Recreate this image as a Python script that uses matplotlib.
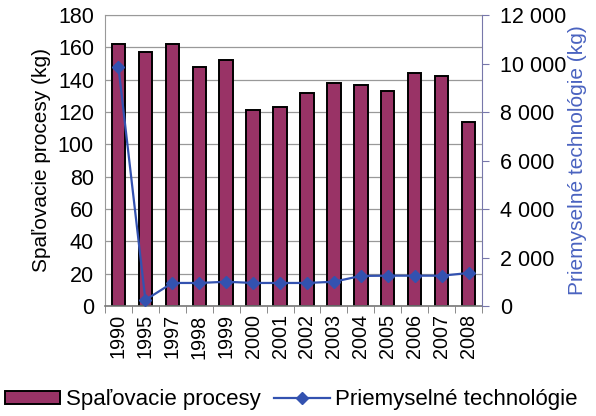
import numpy as np
import matplotlib.pyplot as plt
from matplotlib.ticker import FuncFormatter

years = ['1990', '1995', '1997', '1998', '1999', '2000', '2001',
         '2002', '2003', '2004', '2005', '2006', '2007', '2008']
spalovacie = [162, 157, 162, 148, 152, 121, 123, 132, 138, 137, 133, 144, 142, 114]
priemyselne = [9850, 250, 950, 950, 1000, 950, 950, 950, 1000, 1240, 1250, 1250, 1250, 1360]

BAR_COLOR = '#993366'
LINE_COLOR = '#3352b0'

plt.rcParams['font.family'] = ['Liberation Sans', 'DejaVu Sans']

fig = plt.figure(figsize=(5.96, 4.16), dpi=100)
ax = fig.add_axes([105 / 596, 1 - 306 / 416, 377 / 596, 291 / 416])
x = np.arange(len(years))

ax.bar(x, spalovacie, width=0.5, color=BAR_COLOR, edgecolor='black', linewidth=1.4,
       label='Spaľovacie procesy', zorder=2)
ax.set_xlim(-0.5, len(years) - 0.5)
ax.set_ylim(0, 180)
ax.set_yticks(range(0, 181, 20))
ax.grid(axis='y', color='#999999', linewidth=0.9, zorder=0)
ax.set_axisbelow(True)
ax.set_xticks(x)
ax.set_xticklabels(years, rotation=90, fontsize=14.3)
ax.set_xticks(np.arange(-0.5, len(years), 1), minor=True)
ax.tick_params(axis='x', which='major', length=0, pad=6)
ax.tick_params(axis='x', which='minor', length=5, color='#777777')
ax.tick_params(axis='y', length=0, labelsize=15.5, pad=8)
ax.set_ylabel('Spaľovacie procesy (kg)', fontsize=15, labelpad=5)
for s in ['left', 'top']:
    ax.spines[s].set_color('#999999')
ax.spines['bottom'].set_color('#777777')
ax.spines['bottom'].set_linewidth(1.2)
ax.spines['right'].set_visible(False)

ax2 = ax.twinx()
ax2.plot(x, priemyselne, color=LINE_COLOR, marker='D', markersize=6.5, linewidth=1.6,
         label='Priemyselné technológie', zorder=3)
ax2.set_ylim(0, 12000)
ax2.set_yticks(range(0, 12001, 2000))
ax2.yaxis.set_major_formatter(FuncFormatter(lambda v, p: f'{int(v):,}'.replace(',', ' ')))
ax2.tick_params(axis='y', length=5, color='#7777aa', labelsize=15.5, pad=8)
ax2.spines['right'].set_color('#7777aa')
for s in ['left', 'top', 'bottom']:
    ax2.spines[s].set_visible(False)
ax2.set_ylabel('Priemyselné technológie (kg)', fontsize=15, color='#4a63c0', labelpad=1)

h1, l1 = ax.get_legend_handles_labels()
h2, l2 = ax2.get_legend_handles_labels()
fig.legend(h1 + h2, l1 + l2, loc='center left', bbox_to_anchor=(0.008, 1 - 400 / 416),
           ncol=2, frameon=False, fontsize=16, handlelength=2.5, handletextpad=0.25,
           columnspacing=0.6, borderpad=0.0, borderaxespad=0.0, handleheight=0.55)

fig.savefig('out.png', dpi=100)
